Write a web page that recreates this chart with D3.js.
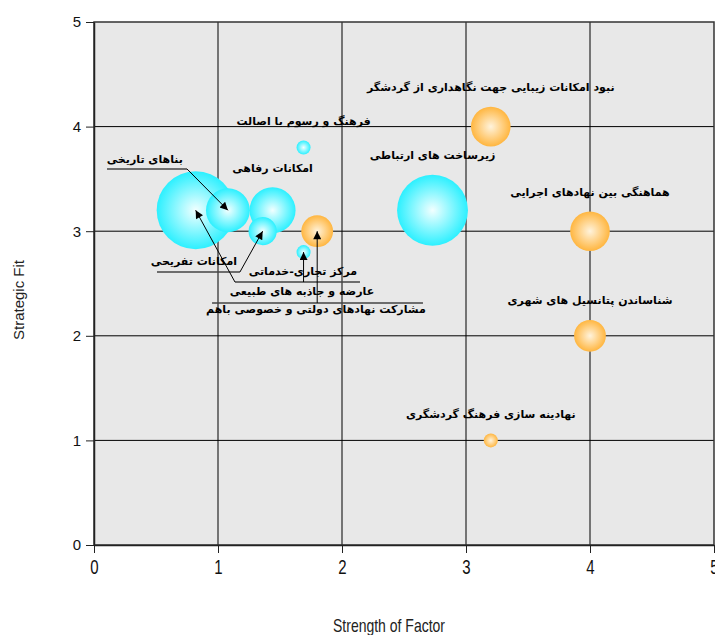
<!DOCTYPE html>
<html>
<head>
<meta charset="utf-8">
<script src="https://cdn.jsdelivr.net/npm/d3@7"></script>
<style>
  body { margin: 0; background: #fff; }
  svg { display: block; }
</style>
</head>
<body>
<div id="chart"></div>
<script>
// data
var labels = [
  "مرکز تجاری-خدماتی",
  "بناهای تاریخی",
  "امکانات رفاهی",
  "امکانات تفریحی",
  "فرهنگ و رسوم با اصالت",
  "عارضه و جاذبه های طبیعی",
  "مشارکت نهادهای دولتی و خصوصی باهم",
  "زیرساخت های ارتباطی",
  "نبود امکانات زیبایی جهت نگاهداری از گردشگر",
  "هماهنگی بین نهادهای اجرایی",
  "شناساندن پتانسیل های شهری",
  "نهادینه سازی فرهنگ گردشگری"
];
var strength = [0.82, 1.08, 1.44, 1.36, 1.69, 1.69, 1.8, 2.73, 3.2, 4, 4, 3.2];
var fit      = [3.2, 3.2, 3.2, 3.0, 3.8, 2.8, 3.0, 3.2, 4.0, 3.0, 2.0, 1.0];
var bubbleSize = [10, 5.2, 5.5, 3, 1, 1, 3.5, 9, 4.6, 4.6, 3.5, 1];
var group    = ["s", "s", "s", "s", "s", "s", "w", "s", "w", "w", "w", "w"];
var xTicks = [0, 1, 2, 3, 4, 5];
var yTicks = [0, 1, 2, 3, 4, 5];

// smart-label callouts (label centre and underline, in axis units)
var callouts = [
  {i: 1, tx: 0.41,  ty: 3.69,  ul: [0.105, 0.75, 3.595]},
  {i: 3, tx: 0.806, ty: 2.706, ul: [0.508, 1.177, 2.61]},
  {i: 0, tx: 1.685, ty: 2.61,  ul: [1.137, 2.145, 2.514]},
  {i: 5, tx: 1.677, ty: 2.428, ul: [1.137, 2.145, 2.514], hide: true},
  {i: 6, tx: 1.79,  ty: 2.247, ul: [0.952, 2.653, 2.314]}
];

var data = labels.map(function (d, i) {
  return {name: d, x: strength[i], y: fit[i], size: bubbleSize[i], g: group[i], i: i};
});

var W = 715, H = 635;
var margin = {top: 22, right: 1, bottom: 90, left: 94};
var width = W - margin.left - margin.right,
    height = H - margin.top - margin.bottom;

var svg = d3.select("#chart").append("svg")
    .attr("width", W)
    .attr("height", H);

var defs = svg.append("defs");
function grad(id, inner, outer) {
  var g = defs.append("radialGradient").attr("id", id);
  g.append("stop").attr("offset", "0%").attr("stop-color", inner);
  g.append("stop").attr("offset", "100%").attr("stop-color", outer);
}
grad("gs", "#f2ffff", "#2cf0ff");
grad("gw", "#fff3dc", "#ffb640");

defs.append("marker")
    .attr("id", "arrow")
    .attr("viewBox", "0 0 10 10")
    .attr("refX", 10).attr("refY", 5)
    .attr("markerWidth", 11).attr("markerHeight", 8)
    .attr("markerUnits", "userSpaceOnUse")
    .attr("orient", "auto")
  .append("path")
    .attr("d", "M0,0L10,5L0,10Z")
    .attr("fill", "#000");

var g = svg.append("g")
    .attr("transform", "translate(" + margin.left + "," + margin.top + ")");

var x = d3.scaleLinear().domain([0, 5]).range([0, width]);
var y = d3.scaleLinear().domain([0, 5]).range([height, 0]);
var r = d3.scaleLinear().domain([1, 10]).range([7, 39]);

g.append("rect")
    .attr("width", width)
    .attr("height", height)
    .attr("fill", "#e8e8e8");

// grid
g.append("g").selectAll("line")
  .data(xTicks.slice(1, -1))
  .enter().append("line")
    .attr("x1", d => x(d)).attr("x2", d => x(d))
    .attr("y1", 0).attr("y2", height)
    .attr("stroke", "#000");
g.append("g").selectAll("line")
  .data(yTicks.slice(1, -1))
  .enter().append("line")
    .attr("y1", d => y(d)).attr("y2", d => y(d))
    .attr("x1", 0).attr("x2", width)
    .attr("stroke", "#000");

g.append("rect")
    .attr("width", width)
    .attr("height", height)
    .attr("fill", "none")
    .attr("stroke", "#333")
    .attr("stroke-width", 1.5);

// axes
var yAxis = g.append("g")
    .call(d3.axisLeft(y).tickValues(yTicks).tickFormat(d3.format("d")).tickSize(8).tickSizeOuter(0));
yAxis.selectAll("text")
    .attr("font-family", "Liberation Sans, Arial, sans-serif")
    .attr("font-size", 15)
    .attr("fill", "#111")
    .attr("dx", "-2");

var xAxis = g.append("g")
    .attr("transform", "translate(0," + height + ")")
    .call(d3.axisBottom(x).tickValues(xTicks).tickFormat(d3.format("d")).tickSize(8).tickSizeOuter(0));
xAxis.selectAll("text")
    .attr("font-family", "Liberation Sans Narrow, Liberation Sans, sans-serif")
    .attr("font-size", 15)
    .attr("fill", "#111")
    .attr("y", 0)
    .attr("dy", 0)
    .attr("transform", "translate(0,29) scale(1,1.35)");
g.selectAll(".domain").attr("stroke", "#222").attr("stroke-width", 1.5);
g.selectAll(".tick line").attr("stroke", "#222");

// bubbles
g.append("g").selectAll("circle")
  .data(data)
  .enter().append("circle")
    .attr("cx", d => x(d.x))
    .attr("cy", d => y(d.y))
    .attr("r", d => r(d.size))
    .attr("fill", d => d.g === "s" ? "url(#gs)" : "url(#gw)");

var font = "DejaVu Sans, Noto Sans, sans-serif";

// labels placed above their bubble
var called = callouts.map(c => c.i);
g.append("g").selectAll("text")
  .data(data.filter(d => called.indexOf(d.i) < 0))
  .enter().append("text")
    .attr("x", d => x(d.x))
    .attr("y", d => y(d.y) - r(d.size) - 19)
    .attr("text-anchor", "middle")
    .attr("dominant-baseline", "central")
    .attr("font-family", font)
    .attr("font-weight", "bold")
    .attr("font-size", 11)
    .attr("fill", "#000")
    .text(d => d.name);

// callout labels with underline and arrow
var cg = g.append("g");
callouts.forEach(function (c) {
  var d = data[c.i];
  var cx = x(d.x), cy = y(d.y);
  var ux1 = x(c.ul[0]), ux2 = x(c.ul[1]), uy = y(c.ul[2]);
  if (!c.hide) {
    cg.append("line")
      .attr("x1", ux1).attr("x2", ux2)
      .attr("y1", uy).attr("y2", uy)
      .attr("stroke", "#444")
      .attr("stroke-width", 1.5);
  }
  var px = Math.max(ux1, Math.min(ux2, cx));
  cg.append("line")
    .attr("x1", px).attr("y1", uy)
    .attr("x2", cx).attr("y2", cy)
    .attr("stroke", "#000")
    .attr("marker-end", "url(#arrow)");
  cg.append("text")
    .attr("x", x(c.tx))
    .attr("y", y(c.ty))
    .attr("text-anchor", "middle")
    .attr("dominant-baseline", "central")
    .attr("font-family", font)
    .attr("font-weight", "bold")
    .attr("font-size", 11)
    .attr("fill", "#000")
    .text(d.name);
});

// axis titles
svg.append("text")
    .attr("transform", "translate(24," + 300 + ") rotate(-90)")
    .attr("text-anchor", "middle")
    .attr("font-family", "Liberation Sans Narrow, Liberation Sans, sans-serif")
    .attr("font-size", 15)
    .attr("fill", "#222")
    .text("Strategic Fit");

svg.append("text")
    .attr("transform", "translate(389,632) scale(1,1.3)")
    .attr("text-anchor", "middle")
    .attr("font-family", "Liberation Sans Narrow, Liberation Sans, sans-serif")
    .attr("font-size", 14)
    .attr("fill", "#222")
    .text("Strength of Factor");
</script>
</body>
</html>
